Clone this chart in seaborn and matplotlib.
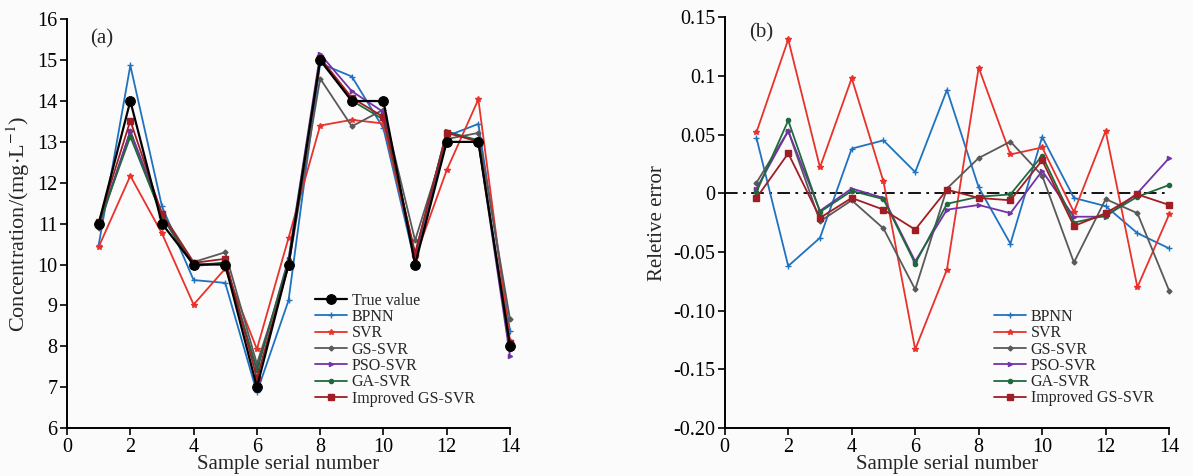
import numpy as np
import pandas as pd
import matplotlib
matplotlib.use("Agg")
import matplotlib.pyplot as plt
import seaborn as sns

samples = list(range(1, 15))
true_value = [11, 14, 11, 10, 10, 7, 10, 15, 14, 14, 10, 13, 13, 8]

pred_bpnn = [10.48, 14.87, 11.42, 9.62, 9.55, 6.87, 9.12, 14.92, 14.60, 13.33, 10.04, 13.14, 13.44, 8.38]
pred_svr = [10.43, 12.17, 10.76, 9.02, 9.90, 7.93, 10.65, 13.40, 13.54, 13.45, 10.16, 12.31, 14.04, 8.14]
pred_gs = [10.90, 13.26, 11.26, 10.06, 10.30, 7.57, 9.96, 14.55, 13.38, 13.79, 10.59, 13.07, 13.22, 8.66]
pred_pso = [10.96, 13.26, 11.17, 9.96, 10.04, 7.41, 10.14, 15.15, 14.24, 13.73, 10.20, 13.26, 13.00, 7.76]
pred_ga = [10.99, 13.13, 11.18, 9.98, 10.05, 7.42, 10.09, 15.05, 14.01, 13.55, 10.25, 13.25, 13.04, 7.94]
pred_imp = [11.04, 13.52, 11.23, 10.04, 10.14, 7.22, 9.97, 15.06, 14.08, 13.61, 10.28, 13.22, 13.01, 8.08]

err_bpnn = [0.047, -0.062, -0.038, 0.038, 0.045, 0.018, 0.088, 0.005, -0.043, 0.048, -0.004, -0.011, -0.034, -0.047]
err_svr = [0.052, 0.131, 0.022, 0.098, 0.010, -0.133, -0.065, 0.107, 0.033, 0.039, -0.016, 0.053, -0.080, -0.018]
err_gs = [0.009, 0.053, -0.024, -0.006, -0.030, -0.082, 0.004, 0.030, 0.044, 0.015, -0.059, -0.005, -0.017, -0.083]
err_pso = [0.004, 0.053, -0.015, 0.004, -0.004, -0.058, -0.014, -0.010, -0.017, 0.019, -0.020, -0.020, 0.000, 0.030]
err_ga = [0.001, 0.062, -0.016, 0.002, -0.005, -0.060, -0.009, -0.003, -0.001, 0.032, -0.025, -0.019, -0.003, 0.007]
err_imp = [-0.004, 0.034, -0.021, -0.004, -0.014, -0.031, 0.003, -0.004, -0.006, 0.028, -0.028, -0.017, -0.001, -0.010]

names = ["BPNN", "SVR", "GS-SVR", "PSO-SVR", "GA-SVR", "Improved GS-SVR"]
colors = ["#1f72c0", "#e8322b", "#595959", "#7332a6", "#1f6a3c", "#a11d25"]
markers = ["+", "*", "D", ">", "o", "s"]
msizes = [4.5, 4.0, 2.5, 3.0, 3.0, 3.8]
preds = [pred_bpnn, pred_svr, pred_gs, pred_pso, pred_ga, pred_imp]
errs = [err_bpnn, err_svr, err_gs, err_pso, err_ga, err_imp]

sns.set_theme(style="ticks")
plt.rcParams["font.family"] = ["Liberation Serif", "DejaVu Serif"]
plt.rcParams["mathtext.fontset"] = "stix"

fig = plt.figure(figsize=(11.93, 4.76), dpi=100, facecolor="#fbfbfb")
axL = fig.add_axes([0.0562, 0.1008, 0.3713, 0.8587])
axR = fig.add_axes([0.6075, 0.1008, 0.3725, 0.8632])

for ax in (axL, axR):
    ax.set_facecolor("#fbfbfb")

# Left panel
sns.lineplot(x=samples, y=true_value, ax=axL, color="black", marker="o", markersize=7,
             linewidth=1.6, label="True value", markeredgecolor="black", clip_on=False, zorder=3)
for n, c, m, ms, p in zip(names, colors, markers, msizes, preds):
    sns.lineplot(x=samples, y=p, ax=axL, color=c, marker=m, markersize=ms, linewidth=1.3,
                 label=n, markeredgecolor=c, markeredgewidth=1.0, clip_on=False, zorder=2)

axL.set_xlim(0, 14)
axL.set_ylim(6, 16)
axL.set_xticks(range(0, 15, 2))
axL.set_yticks(range(6, 17))
axL.set_xlabel("Sample serial number", fontsize=15, labelpad=-1)
axL.set_ylabel("Concentration/(mg$\\cdot$L$^{-1}$)", fontsize=16, labelpad=4)
axL.text(0.052, 0.975, "(a)", transform=axL.transAxes, fontsize=15, va="top", ha="left")
axL.legend(loc="upper left", bbox_to_anchor=(0.56, 0.331), frameon=False, fontsize=11.5,
           handlelength=2.0, handletextpad=0.3, labelspacing=0.02, borderaxespad=0, borderpad=0)

# Right panel
axR.axhline(0, color="black", linestyle="-.", linewidth=1.3, dashes=(7, 3, 1.5, 3), zorder=1)
for n, c, m, ms, e in zip(names, colors, markers, msizes, errs):
    sns.lineplot(x=samples, y=e, ax=axR, color=c, marker=m, markersize=ms, linewidth=1.3,
                 label=n, markeredgecolor=c, markeredgewidth=1.0, clip_on=False, zorder=2)

axR.set_xlim(0, 14)
axR.set_ylim(-0.2, 0.15)
axR.set_xticks(range(0, 15, 2))
yt = [0.15, 0.1, 0.05, 0, -0.05, -0.10, -0.15, -0.20]
axR.set_yticks(yt)
axR.set_yticklabels(["0.15", "0.1", "0.05", "0", "-0.05", "-0.10", "-0.15", "-0.20"])
axR.set_xlabel("Sample serial number", fontsize=15, labelpad=-1)
axR.set_ylabel("Reletive error", fontsize=15, labelpad=4)
axR.text(0.055, 0.985, "(b)", transform=axR.transAxes, fontsize=15, va="top", ha="left")
axR.legend(loc="upper left", bbox_to_anchor=(0.606, 0.29), frameon=False, fontsize=11.5,
           handlelength=2.0, handletextpad=0.3, labelspacing=0.02, borderaxespad=0, borderpad=0)

for ax in (axL, axR):
    sns.despine(ax=ax)
    ax.spines["left"].set_linewidth(1.4)
    ax.spines["bottom"].set_linewidth(1.4)
    ax.spines["left"].set_color("black")
    ax.spines["bottom"].set_color("black")
    ax.tick_params(direction="out", length=5, width=1.2, labelsize=14.5, colors="black", pad=2)

fig.savefig("out.png", dpi=100, facecolor=fig.get_facecolor())
